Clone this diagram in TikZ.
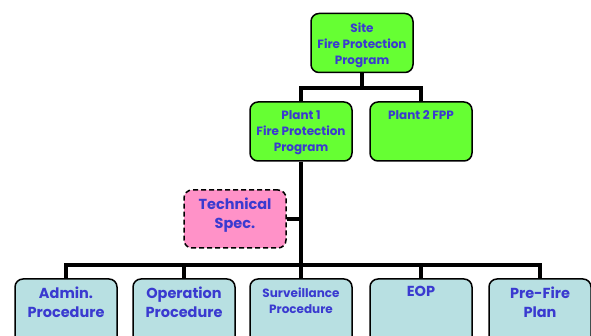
\documentclass[tikz,border=0pt]{standalone}
\usepackage{fontspec}
\setmainfont{Poppins}
\usepackage{xcolor}
\definecolor{boxgreen}{HTML}{66FF33}
\definecolor{boxpink}{HTML}{FF92C8}
\definecolor{boxcyan}{HTML}{B8E0E2}
\definecolor{labelblue}{HTML}{3A3AD0}

\begin{document}
\begin{tikzpicture}[x=1pt,y=-1pt]
  \tikzset{orgbox/.style={rectangle,rounded corners=8pt,draw=black,line width=1.5pt,
      minimum width=102pt,minimum height=59pt,inner sep=0pt}}
  \tikzset{boxtext/.style={anchor=north,align=center,text=labelblue,font=\bfseries\fontsize{12}{16}\selectfont,inner sep=0pt,yshift=-9.5pt}}
  \tikzset{bigtext/.style={boxtext,font=\bfseries\fontsize{14.5}{19}\selectfont,yshift=1.5pt}}
  \tikzset{trunk/.style={draw=black,line width=4pt}}
  \useasboundingbox (0,0) rectangle (591,336);
  \clip (0,0) rectangle (591,336);
  \node[orgbox,fill=boxgreen] (site) at (362,43) {};
  \node[boxtext] at (site.north) {Site\\Fire Protection\\Program};
  \node[orgbox,fill=boxgreen] (plant1) at (301,131.5) {};
  \node[boxtext] at (plant1.north) {Plant 1\\Fire Protection\\Program};
  \node[orgbox,fill=boxgreen] (plant2) at (421,131.5) {};
  \node[boxtext] at (plant2.north) {Plant 2 FPP};
  \node[orgbox,fill=boxpink,dash pattern=on 5pt off 3pt,minimum height=58pt] (techspec) at (235,219) {};
  \node[bigtext] at (techspec.north) {Technical\\Spec.};
  \node[orgbox,fill=boxcyan,minimum height=66pt] (admin) at (66,312) {};
  \node[bigtext] at (admin.north) {Admin.\\Procedure};
  \node[orgbox,fill=boxcyan,minimum height=66pt] (operation) at (184,312) {};
  \node[bigtext] at (operation.north) {Operation\\Procedure};
  \node[orgbox,fill=boxcyan,minimum height=66pt] (surveillance) at (301,312) {};
  \node[boxtext] at (surveillance.north) {Surveillance\\Procedure};
  \node[orgbox,fill=boxcyan,minimum height=66pt] (eop) at (421,312) {};
  \node[bigtext] at (eop.north) {EOP};
  \node[orgbox,fill=boxcyan,minimum height=66pt] (prefire) at (540,312) {};
  \node[bigtext] at (prefire.north) {Pre-Fire\\Plan};
  \coordinate (topbar) at (362,88);
  \coordinate (lowbar) at (301,265);
  \draw[trunk] (site.south) -- (topbar);
  \draw[trunk] (plant1.north) |- (topbar) -| (plant2.north);
  \draw[trunk] (plant1.south) -- (surveillance.north);
  \draw[trunk] (techspec.east) -- (techspec.east -| lowbar);
  \draw[trunk] (admin.north) |- (lowbar) -| (prefire.north);
  \draw[trunk] (operation.north) -- (operation.north |- lowbar);
  \draw[trunk] (eop.north) -- (eop.north |- lowbar);
\end{tikzpicture}
\end{document}
